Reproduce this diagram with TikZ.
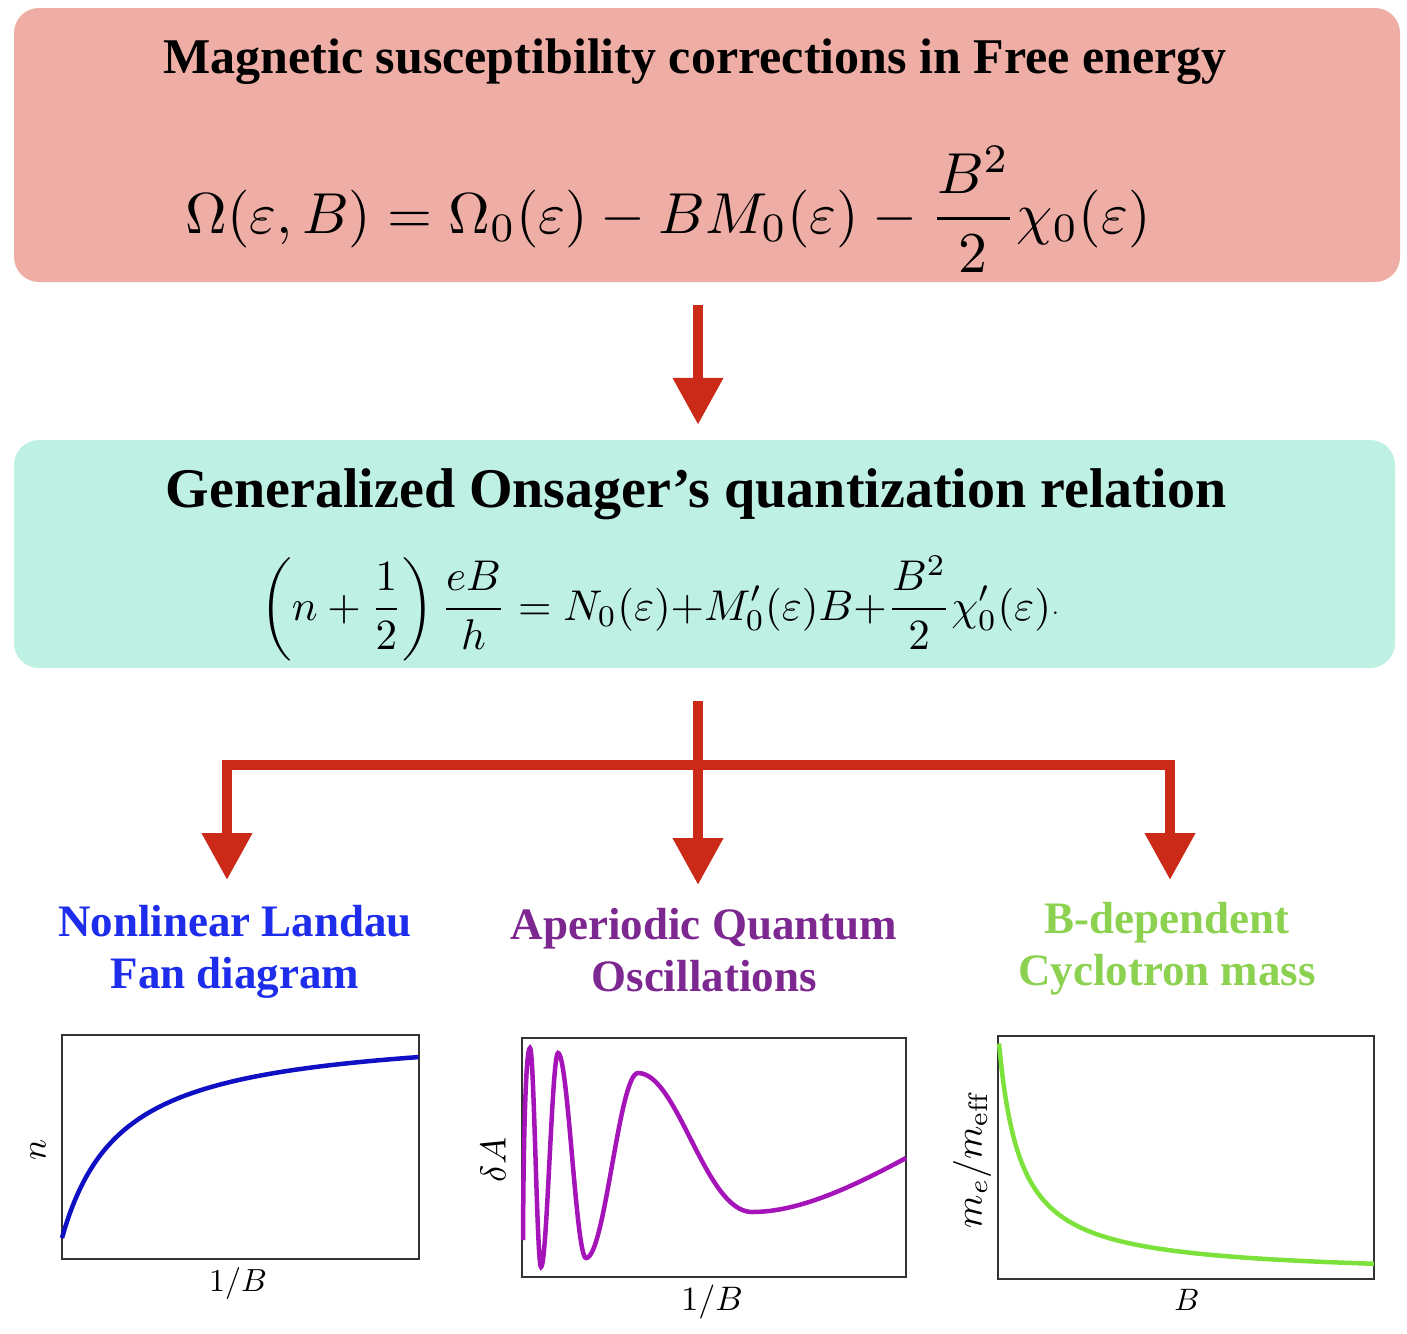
\documentclass[tikz,border=0pt]{standalone}
\usepackage{graphicx}
\usepackage{fontspec}
\newfontfamily\tnr{Liberation Serif}
\usetikzlibrary{arrows.meta,calc}
\definecolor{boxred}{RGB}{238,174,166}
\definecolor{boxmint}{RGB}{190,240,228}
\definecolor{arrred}{RGB}{204,42,24}
\definecolor{labblue}{RGB}{30,45,235}
\definecolor{labpurple}{RGB}{125,40,145}
\definecolor{labgreen}{RGB}{140,210,80}
\definecolor{curveblue}{RGB}{15,15,195}
\definecolor{curvepurple}{RGB}{165,20,185}
\definecolor{curvegreen}{RGB}{125,225,60}
\tikzset{
  panel/.style={rounded corners=25pt, inner sep=0pt},
  titletext/.style={font=\tnr\bfseries\fontsize{#1}{#1}\selectfont, inner sep=0pt, anchor=base},
  eqtext/.style={inner sep=0pt, anchor=base},
  labtext/.style={font=\tnr\bfseries\fontsize{45}{52}\selectfont, align=center, inner sep=0pt, text=#1},
  frame/.style={draw=black!80, line width=1.5pt, inner sep=0pt},
  axlab/.style={inner sep=0pt},
  bigarrow/.style={draw=arrred, line width=10.5pt, line join=miter,
    -{Triangle[width=48pt,length=47pt]}},
  curve/.style={line width=4.5pt, #1}
}
\begin{document}
\begin{tikzpicture}[x=1pt,y=-1pt]
\useasboundingbox[fill=white] (0,0) rectangle (1407,1333);

% panels
\node[panel, fill=boxred, minimum width=1386pt, minimum height=274pt] (box1) at (707,145) {};
\node[panel, fill=boxmint, minimum width=1381pt, minimum height=228pt] (box2) at (704.5,554) {};

\node[titletext=50] (t1) at (695,73) {Magnetic susceptibility corrections in Free energy};
\node[eqtext] (eq1) at (668,233) {\scalebox{5.78}{$\displaystyle \Omega(\varepsilon,B)=\Omega_0(\varepsilon)-BM_0(\varepsilon)-\frac{B^2}{2}\chi_0(\varepsilon)$}};

\node[titletext=56] (t2) at (696,507) {Generalized Onsager’s quantization relation};
\node[eqtext] (eq2) at (660,620) {\scalebox{4.3}{$\displaystyle \left(n+\frac{1}{2}\right)\frac{eB}{h}=N_0(\varepsilon){+}M_0'(\varepsilon)B{+}\frac{B^2}{2}\chi_0'(\varepsilon)$\raisebox{0.3ex}{\tiny .}}};

% connectors
\coordinate (split) at (698,765);
\coordinate (e1) at (227,880);
\coordinate (e3) at (1170,880);
\draw[bigarrow] ($(box1.south -| split)+(0,23)$) -- ($(box2.north -| split)+(0,-15)$);
\draw[bigarrow] ($(box2.south -| split)+(0,33)$) -- ($(split)+(0,120)$);
\draw[bigarrow] (split) -| (e1);
\draw[bigarrow] (split) -| (e3);

% labels
\node[labtext=labblue] (lab1) at (235,952) {Nonlinear Landau\\Fan diagram};
\node[labtext=labpurple] (lab2) at (704,950) {Aperiodic Quantum\\Oscillations};
\node[labtext=labgreen] (lab3) at (1167,949) {B-dependent\\Cyclotron mass};

% plot 1
\node[frame, minimum width=357pt, minimum height=224pt] (p1) at (240.5,1147) {};
\draw[curve=curveblue] plot[domain=0:1, samples=120, smooth] ({62+357*\x},{1238-211*\x/(\x+0.166)});
\node[axlab, rotate=90] (y1) at (38,1150) {\scalebox{3.5}{$n$}};
\node[axlab] (x1) at (238,1283) {\scalebox{3.2}{$1/B$}};

% plot 2
\node[frame, minimum width=384pt, minimum height=239pt] (p2) at (714,1157.5) {};
\draw[curve=curvepurple] (523,1240) .. controls (523.5,1130) and (526,1048) .. (530,1048)
  .. controls (534,1048) and (537,1267) .. (541,1267)
  .. controls (547,1267) and (552,1053) .. (558,1053)
  .. controls (568,1053) and (576,1258) .. (586,1258)
  .. controls (605,1258) and (619,1073) .. (638,1073)
  .. controls (678,1073) and (705,1212) .. (752,1212)
  .. controls (800,1212) and (854,1186) .. (906,1158);
\node[axlab, rotate=90] (y2) at (493,1160) {\scalebox{3.6}{$\delta A$}};
\node[axlab] (x2) at (712,1302) {\scalebox{3.4}{$1/B$}};

% plot 3
\node[frame, minimum width=376pt, minimum height=243pt] (p3) at (1186,1157.5) {};
\draw[curve=curvegreen] plot[domain=0:375, samples=150, smooth] ({999+\x},{1276.5-5054/(\x+21.7)});
\node[axlab, rotate=90] (y3) at (972,1160) {\scalebox{3.8}{$m_e/m_{\mathrm{eff}}$}};
\node[axlab] (x3) at (1187,1300) {\scalebox{3.1}{$B$}};
\end{tikzpicture}
\end{document}
